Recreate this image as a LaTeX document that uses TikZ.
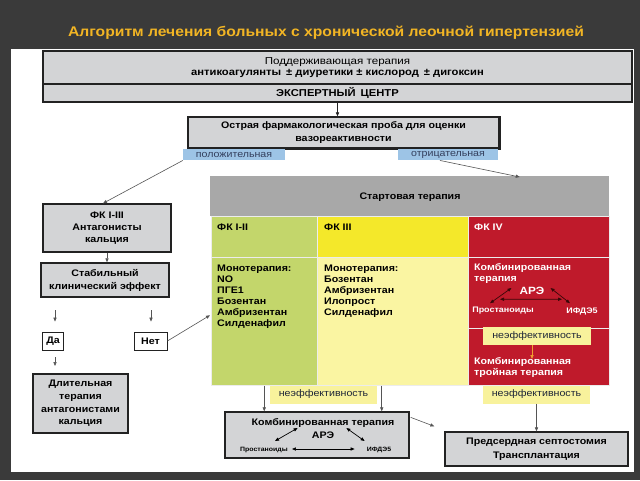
\documentclass[tikz,border=0pt]{standalone}
\usepackage{fontspec}
\setmainfont{Liberation Sans}[FakeStretch=1.12]
\newfontfamily\widefont{Liberation Sans}[FakeStretch=1.16]
\usetikzlibrary{arrows.meta,calc}
\definecolor{bgdark}{HTML}{3A3A3A}
\definecolor{titlegold}{HTML}{F2B524}
\definecolor{boxgray}{HTML}{D3D4D6}
\definecolor{hdrgray}{HTML}{A8A8A8}
\definecolor{cgreen}{HTML}{C3D66B}
\definecolor{cyellow}{HTML}{F4E82A}
\definecolor{clyellow}{HTML}{FAF5A2}
\definecolor{cred}{HTML}{BF1A2B}
\definecolor{lblyellow}{HTML}{F8F29C}
\definecolor{lblblue}{HTML}{9DC4E6}
\definecolor{lbltext}{HTML}{34405E}
\definecolor{darkline}{HTML}{222222}
\definecolor{conn}{HTML}{555555}
\definecolor{darkred}{HTML}{3A0808}
\definecolor{orangearr}{HTML}{F0A030}
\begin{document}
\begin{tikzpicture}[x=1pt,y=-1pt,
  >={Triangle[length=4pt,width=3.2pt]},
  graybox/.style={draw=darkline, line width=1.3pt, fill=boxgray, inner sep=0pt, align=center,
    font=\bfseries\fontsize{9.5}{12}\selectfont},
  smallbox/.style={draw=darkline, line width=0.8pt, fill=white, inner sep=0pt,
    font=\bfseries\fontsize{9.5}{12}\selectfont},
  cell/.style={draw=white!85!gray, line width=0.5pt, inner sep=0pt, anchor=north west},
  celltext/.style={anchor=north west, inner sep=0pt, align=left,
    font=\bfseries\fontsize{9.5}{11}\selectfont},
  lblY/.style={fill=lblyellow, inner sep=0pt, minimum width=107, minimum height=18,
    text=lbltext!60!black, font=\fontsize{9.5}{11}\selectfont},
  lblB/.style={fill=lblblue, inner sep=0pt, minimum height=11.5,
    text=lbltext, font=\fontsize{9.5}{11}\selectfont},
  conline/.style={->, draw=conn, line width=0.6pt},
  twoway/.style={<->, line width=0.7pt},
  plain/.style={inner sep=0pt}
]
\useasboundingbox (0,0) rectangle (640,480);
\fill[bgdark] (0,0) rectangle (640,480);
\fill[white] (11,49) rectangle (634,472);

% title
\node[plain, text=titlegold, font=\bfseries\fontsize{14}{17}\selectfont] (title) at (326,33)
  {Алгоритм лечения больных с хронической леочной гипертензией};

% top boxes
\node[graybox, minimum width=589, minimum height=33, font=\bfseries\fontsize{10}{11.5}\selectfont] (support) at (337.5,67.5)
  {{\widefont\mdseries Поддерживающая терапия}\\антикоагулянты\enspace ± диуретики ± кислород\enspace ± дигоксин};
\node[graybox, minimum width=589, minimum height=18, font=\bfseries\fontsize{10}{12}\selectfont] (expert) at (337.5,93)
  {ЭКСПЕРТНЫЙ\enspace ЦЕНТР};

% acute test
\node[graybox, minimum width=311, minimum height=31, font=\bfseries\fontsize{9.5}{13}\selectfont] (acute) at (343.5,132.5)
  {Острая фармакологическая проба для оценки\\вазореактивности};
\draw[line width=2.2pt, darkline] (acute.north east) -- (acute.south east) -- ($(acute.south west)+(70,0)$);
\draw[conline, draw=darkline] (expert.south) -- (expert.south |- acute.north);

\node[lblB, minimum width=102] (pos) at (234,154.5) {положительная};
\node[lblB, minimum width=100] (neg) at (448,154.5) {отрицательная};

% left column
\node[graybox, minimum width=128, minimum height=48] (fk13) at (107,228)
  {ФК I-III\\Антагонисты\\кальция};
\node[graybox, minimum width=128, minimum height=34, line width=1.5pt, font=\bfseries\fontsize{9.5}{13}\selectfont] (stable) at (105,280)
  {Стабильный\\клинический эффект};
\node[smallbox, minimum width=21, minimum height=18] (da) at (53,341) {Да};
\node[smallbox, minimum width=33, minimum height=18] (net) at (150.5,341) {Нет};
\node[graybox, minimum width=95, minimum height=59, line width=1.5pt, font=\bfseries\fontsize{9.5}{12.7}\selectfont] (longterm) at (80.5,403.5)
  {Длительная\\терапия\\антагонистами\\кальция};

\draw[conline] (pos.south west) -- ($(fk13.north)+(-4,0)$);
\draw[conline] (fk13.south) -- (fk13.south |- stable.north);
\coordinate (daA) at (55,310);
\coordinate (netA) at (151,310);
\draw[conline] (daA) -- ($(da.north)+(2,-10)$);
\draw[conline] (netA) -- ($(net.north)+(0.5,-10)$);
\coordinate (daB) at (55,366);
\draw[conline] ($(da.south)+(2,7)$) -- (daB);

% table
\node[cell, fill=hdrgray, draw=none, minimum width=399, minimum height=40] (start) at (210,176) {};
\node[plain, font=\bfseries\fontsize{9.5}{12}\selectfont] (starttxt) at (410,197) {Стартовая терапия};
\node[cell, fill=cgreen, minimum width=106, minimum height=41] (h1) at (211,216) {};
\node[cell, fill=cyellow, minimum width=151, minimum height=41] (h2) at (317,216) {};
\node[cell, fill=cred, minimum width=141, minimum height=41] (h3) at (468,216) {};
\node[cell, fill=cgreen, minimum width=106, minimum height=128] (b1) at (211,257) {};
\node[cell, fill=clyellow, minimum width=151, minimum height=128] (b2) at (317,257) {};
\node[cell, fill=cred, minimum width=141, minimum height=71] (b3) at (468,257) {};
\node[cell, fill=cred, minimum width=141, minimum height=57] (b4) at (468,328) {};

\node[celltext] (t1) at (217,224) {ФК I-II};
\node[celltext] (t2) at (324,224) {ФК III};
\node[celltext, text=white] (t3) at (474,224) {ФК IV};

\node[celltext] (m1) at (217,265) {Монотерапия:\\NO\\ПГЕ1\\Бозентан\\Амбризентан\\Силденафил};
\node[celltext] (m2) at (324,265) {Монотерапия:\\Бозентан\\Амбризентан\\Илопрост\\Силденафил};
\node[celltext, text=white] (m3) at (474,263) {Комбинированная\\терапия};
\node[plain, text=white, font=\bfseries\fontsize{10.5}{12}\selectfont] (are3) at (532,291) {АРЭ};
\node[plain, text=white, font=\bfseries\fontsize{8}{10}\selectfont] (pros3) at (503,311) {Простаноиды};
\node[plain, text=white, font=\bfseries\fontsize{8}{10}\selectfont] (ifd3) at (582,311) {ИФДЭ5};
\draw[twoway, darkred] ($(pros3.north)+(-13,-4)$) -- ($(are3.west)+(-8,-3)$);
\draw[twoway, darkred] ($(are3.east)+(6,-3)$) -- ($(ifd3.north)+(-12,-4)$);
\draw[twoway, darkred] ($(pros3.north)+(-3,-8)$) -- ($(ifd3.north west)+(-4,-8)$);

\node[lblY, minimum width=108] (neff3) at (537,336) {неэффективность};
\node[celltext, text=white] (triple) at (474,357) {Комбинированная\\тройная терапия};
\draw[->, orangearr, line width=0.8pt] ($(neff3.south)+(-5,0)$) -- ($(neff3.south |- triple.north)+(-5,2)$);

\draw[conline] (net.east) -- ($(b1.west)+(-1,-6)$);
\draw[conline] (neg.south) ++(-8,0) -- ($(start.north)+(110,1)$);

% bottom
\node[lblY] (neff1) at (323.5,394.5) {неэффективность};
\node[lblY] (neff2) at (536.5,394.5) {неэффективность};
\node[graybox, minimum width=184, minimum height=46] (combo) at (317,435) {};
\node[plain, font=\bfseries\fontsize{9.5}{12}\selectfont] (ctitle) at (323,423) {Комбинированная терапия};
\node[plain, font=\bfseries\fontsize{9.5}{12}\selectfont] (care) at (323,435) {АРЭ};
\node[plain, font=\bfseries\fontsize{6.2}{7}\selectfont] (cpros) at (264,450) {Простаноиды};
\node[plain, font=\bfseries\fontsize{6.2}{7}\selectfont] (cifd) at (379,450) {ИФДЭ5};
\draw[twoway] ($(cpros.north east)+(-13,-6)$) -- ($(care.west)+(-14,-7)$);
\draw[twoway] ($(care.east)+(12,-7)$) -- ($(cifd.north west)+(-2,-6)$);
\draw[twoway] ($(cpros.east)+(4,-1)$) -- ($(cifd.west)+(-12,-1)$);

\node[graybox, minimum width=183, minimum height=34, font=\bfseries\fontsize{9.5}{13.5}\selectfont] (transplant) at (536.5,449)
  {Предсердная септостомия\\Трансплантация};

\draw[conline] (b1.south) -- (b1.south |- combo.north);
\draw[conline] ($(b2.south)+(-11,0)$) -- ($(b2.south |- combo.north)+(-11,0)$);
\draw[conline] (neff2.south) -- (transplant.north);
\draw[conline] ($(combo.north east)+(1,6)$) -- ($(transplant.north west)+(-10,-5)$);
\end{tikzpicture}
\end{document}
